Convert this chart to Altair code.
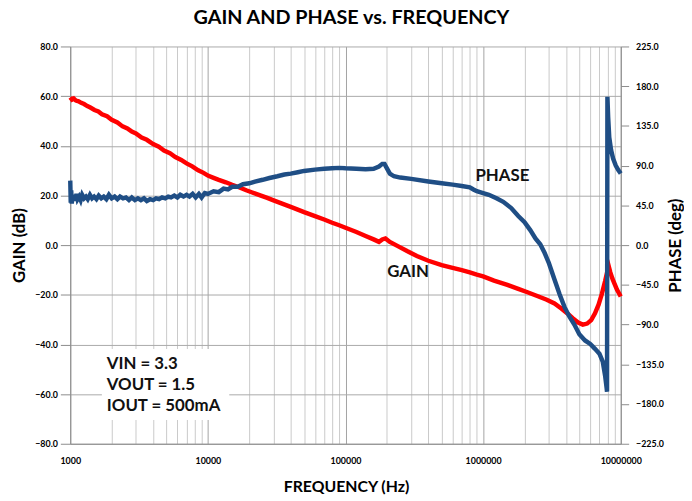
import altair as alt
import pandas as pd

# ---------------- data ----------------
gain_freq = [1000, 1030, 1060, 1100, 1150, 1200, 1260, 1330, 1400, 1500, 1600, 1700, 1850,
             2000, 2200, 2400, 2600, 2800, 3000, 3300, 3600, 4000, 4400, 4800, 5300, 5800,
             6400, 7000, 7700, 8500, 9300, 10000, 11000, 12000, 13500, 15000, 17000, 19000,
             21000, 24000, 27000, 30000, 35000, 40000, 45000, 50000, 60000, 70000, 80000,
             90000, 100000, 120000, 140000, 160000, 175000, 185000, 195000, 210000, 240000,
             280000, 330000, 400000, 500000, 600000, 700000, 800000, 900000, 1000000,
             1200000, 1500000, 1800000, 2100000, 2500000, 2900000, 3300000, 3700000,
             4100000, 4500000, 4900000, 5300000, 5700000, 6100000, 6500000, 6900000,
             7300000, 7700000, 8000000, 8200000, 8400000, 8700000, 9000000, 9400000, 10000000]
gain_db = [59.5, 58.6, 59.0, 58.2, 57.9, 57.3, 56.8, 56.0, 55.4, 54.4, 53.8, 52.7, 51.9,
           50.5, 49.4, 47.8, 47.0, 45.7, 45.0, 43.3, 42.4, 40.7, 39.6, 38.1, 37.0, 35.5,
           34.3, 32.9, 31.7, 30.1, 29.1, 28.0, 27.1, 26.3, 25.3, 24.3, 23.2, 22.1,
           21.2, 20.0, 19.0, 18.0, 16.6, 15.4, 14.3, 13.3, 11.7, 10.3, 9.0,
           8.0, 7.0, 5.3, 3.7, 2.3, 1.3, 2.3, 2.7, 1.3, -0.4,
           -2.4, -4.4, -6.3, -8.1, -9.2, -10.1, -11.0, -11.9, -12.6,
           -14.3, -16.0, -17.6, -19.0, -20.6, -22.0, -23.5, -25.5,
           -27.5, -29.5, -31.2, -32.0, -31.6, -30.2, -27.5, -24.0,
           -19.5, -14.5, -10.5, -8.8, -11.0, -13.5, -15.5, -18.0, -20.7]

phase_freq = [1000, 1008, 1016, 1025, 1040, 1055, 1070, 1090, 1110, 1130, 1160, 1190, 1220,
              1260, 1300, 1340, 1390, 1440, 1490, 1550, 1610, 1680, 1750, 1830, 1910, 2000,
              2100, 2200, 2300, 2420, 2540, 2670, 2800, 2950, 3100, 3260, 3430, 3600, 3800,
              4000, 4200, 4420, 4650, 4900, 5150, 5400, 5700, 6000, 6300, 6650, 7000, 7350,
              7750, 8150, 8600, 9000, 9500, 10000, 11000, 12000, 13000, 14000, 15000, 16500,
              18000, 20000, 22000, 25000, 28000, 32000, 36000, 40000, 45000, 50000, 60000,
              70000, 80000, 90000, 100000, 120000, 140000, 160000, 175000, 185000, 192000,
              200000, 210000, 225000, 250000, 300000, 400000, 500000, 600000, 700000,
              800000, 850000, 900000, 1000000, 1100000, 1250000, 1400000, 1600000, 1800000,
              2000000, 2200000, 2400000, 2600000, 2800000, 3000000, 3300000, 3600000,
              3900000, 4200000, 4600000, 5000000, 5500000, 6000000, 6500000, 7000000,
              7400000, 7700000, 7900000, 7950000, 8000000, 8100000, 8250000, 8500000,
              8800000, 9200000, 9600000, 10000000]
phase_deg = [73, 48, 62, 47, 57, 50, 56, 51, 58, 52, 55, 51, 57,
             53, 55, 52, 57, 53, 55, 52, 56, 53, 55, 52, 57, 53,
             55, 52, 55, 53, 54, 51, 54, 51, 53, 51, 53, 50, 52,
             51, 53, 52, 54, 53, 55, 54, 56, 54, 57, 55, 57, 55,
             58, 54, 58, 54, 59, 58, 61, 60, 64, 63, 66, 66,
             69, 70, 72, 74, 76, 78, 80, 81, 82.5, 84, 85.5,
             86.5, 87, 87.5, 87, 86.5, 86, 86.5, 89, 92, 92,
             87, 81, 78, 76.5, 75, 72, 70, 68.5, 67,
             65.5, 63, 61, 59, 57, 53, 49, 42, 33,
             26, 17, 7.5, 1, -9, -20, -39, -56,
             -70, -80, -90, -101, -108, -112, -117.5, -123,
             -132, -148, -162, -166, 168, 145, 122, 108,
             98, 90, 85, 81]

grid_freqs = [1000, 2000, 3000, 4000, 5000, 6000, 7000, 8000, 9000,
              10000, 20000, 30000, 40000, 50000, 60000, 70000, 80000, 90000,
              100000, 200000, 300000, 400000, 500000, 600000, 700000, 800000, 900000,
              1000000, 2000000, 3000000, 4000000, 5000000, 6000000, 7000000, 8000000, 9000000,
              10000000]
gain_ticks = [-80, -60, -40, -20, 0, 20, 40, 60, 80]
phase_ticks = [-225, -180, -135, -90, -45, 0, 45, 90, 135, 180, 225]

curve_labels = ["PHASE", "GAIN"]
curve_label_freq = [1380000, 285000]
curve_label_db = [27.9, -10.7]

box_lines = ["VIN = 3.3", "VOUT = 1.5", "IOUT = 500mA"]
box_line_freq = [1844, 1844, 1844]
box_line_db = [-47.8, -56.5, -64.9]
box_x = [1697, 14300]
box_db = [-41.8, -70.4]

# ---------------- chart ----------------
FONT = "Lato"
gain_df = pd.DataFrame({"freq": gain_freq, "gain": gain_db})
phase_df = pd.DataFrame({"freq": phase_freq, "phase": phase_deg})
lab_df = pd.DataFrame({"freq": curve_label_freq, "gain": curve_label_db, "label": curve_labels})
box_txt_df = pd.DataFrame({"freq": box_line_freq, "gain": box_line_db, "label": box_lines})
box_df = pd.DataFrame({"x0": [box_x[0]], "x1": [box_x[1]], "y0": [box_db[0]], "y1": [box_db[1]]})

xscale = alt.Scale(type="log", domain=[1000, 10000000], nice=False)
gscale = alt.Scale(domain=[-80, 80], nice=False)
pscale = alt.Scale(domain=[-225, 225], nice=False)

decade_test = "datum.value == 1000 || datum.value == 10000 || datum.value == 100000 || datum.value == 1000000 || datum.value == 10000000"
x_axis = alt.Axis(
    values=grid_freqs, format="d",
    labelExpr="(" + decade_test + ") ? datum.label : ''",
    grid=True,
    gridColor={"condition": {"test": decade_test, "value": "#A3A3A3"}, "value": "#C9C9C9"},
    gridWidth=1, ticks=False, domainColor="#8C8C8C",
    labelPadding=13, labelFlush=False, labelOverlap=False,
    labelFont=FONT, labelFontWeight="bold", labelFontSize=9, labelColor="#000",
    title="FREQUENCY (Hz)", titleFont=FONT, titleFontWeight="bold", titleFontSize=16,
    titleColor="#000", titleX=279, titleY=43, titleBaseline="middle", titleAlign="center",
)
X = alt.X("freq:Q", scale=xscale, axis=x_axis)

gain_axis = alt.Axis(
    values=gain_ticks, format=".1f", grid=True, gridColor="#A9A9A9",
    tickSize=10, tickColor="#8C8C8C", domainColor="#8C8C8C", labelPadding=3,
    labelFont=FONT, labelFontWeight="bold", labelFontSize=9, labelColor="#000",
    title="GAIN (dB)", titleFont=FONT, titleFontWeight="bold", titleFontSize=17,
    titleColor="#000", titleX=-51, titleY=201, titleAngle=270,
    titleBaseline="middle", titleAlign="center",
)
phase_axis = alt.Axis(
    orient="right", values=phase_ticks, format=".1f", grid=False,
    tickSize=8, tickColor="#8C8C8C", domainColor="#8C8C8C", labelPadding=7,
    labelFont=FONT, labelFontWeight="bold", labelFontSize=9, labelColor="#000",
    title="PHASE (deg)", titleFont=FONT, titleFontWeight="bold", titleFontSize=17,
    titleColor="#000", titleX=55, titleY=201, titleAngle=270,
    titleBaseline="middle", titleAlign="center",
)

box = alt.Chart(box_df).mark_rect(color="white").encode(
    x=alt.X("x0:Q", scale=xscale, axis=x_axis), x2="x1:Q",
    y=alt.Y("y0:Q", scale=gscale, axis=None), y2="y1:Q",
)
gain_line = alt.Chart(gain_df).mark_line(color="#FF0000", strokeWidth=4.5).encode(
    x=X, y=alt.Y("gain:Q", scale=gscale, axis=gain_axis),
)
phase_line = alt.Chart(phase_df).mark_line(color="#1F4E85", strokeWidth=4.5).encode(
    x=X, y=alt.Y("phase:Q", scale=pscale, axis=phase_axis),
)
curve_text = alt.Chart(lab_df).mark_text(
    font=FONT, fontWeight="bold", fontSize=17, color="#111", align="center", baseline="middle"
).encode(x=X, y=alt.Y("gain:Q", scale=gscale, axis=None), text="label:N")
box_text = alt.Chart(box_txt_df).mark_text(
    font=FONT, fontWeight="bold", fontSize=17, color="#111", align="left", baseline="middle"
).encode(x=X, y=alt.Y("gain:Q", scale=gscale, axis=None), text="label:N")

chart = alt.layer(box, gain_line, phase_line, curve_text, box_text).resolve_scale(
    y="independent"
).properties(
    width=557, height=402,
    autosize=alt.AutoSizeParams(type="none"),
    padding={"left": 63, "top": 36, "right": 64, "bottom": 55},
    title=alt.TitleParams(
        "GAIN AND PHASE vs. FREQUENCY", font=FONT, fontWeight="bold", fontSize=20,
        color="#000", anchor="middle", frame="group", offset=21, baseline="alphabetic",
        dx=6, dy=22,
    ),
).configure_view(strokeWidth=0)

chart.save("out.html", embed_options={"renderer": "svg", "actions": False})
